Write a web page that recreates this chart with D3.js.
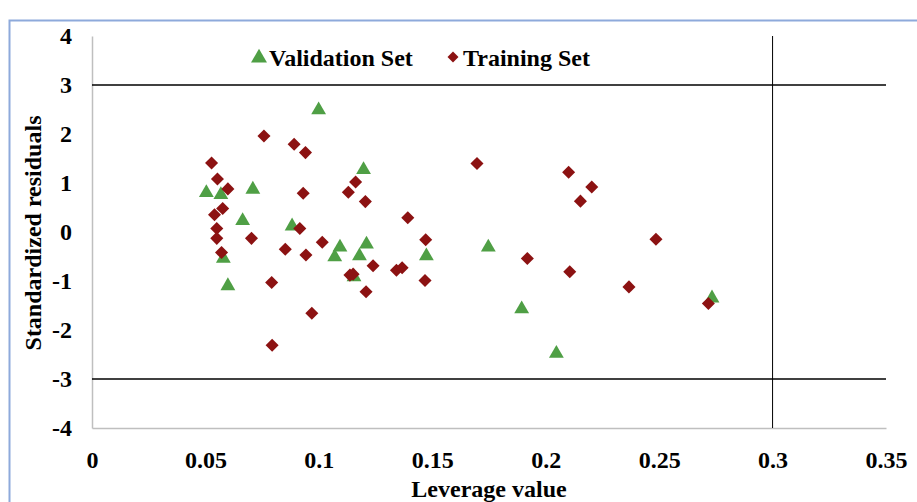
<!DOCTYPE html>
<html><head><meta charset="utf-8">
<script src="https://cdn.jsdelivr.net/npm/d3@7"></script>
<style>body{margin:0;background:#fff}svg{display:block}</style>
</head><body>
<script>
const validationX = [0.0504,0.0568,0.0709,0.0664,0.0882,0.0579,0.0599,0.0999,0.1197,0.1093,0.1070,0.1210,0.1179,0.1155,0.1474,0.1747,0.1894,0.2047,0.2733];
const validationY = [0.80,0.76,0.87,0.23,0.12,-0.54,-1.10,2.49,1.27,-0.31,-0.51,-0.25,-0.49,-0.92,-0.49,-0.31,-1.57,-2.48,-1.35];
const trainingX = [0.0758,0.0891,0.0941,0.0527,0.0553,0.0599,0.0931,0.1130,0.1162,0.0576,0.0540,0.0550,0.0550,0.0703,0.0916,0.0571,0.0852,0.0943,0.1015,0.0792,0.0969,0.0794,0.1205,0.1392,0.1471,0.1468,0.1239,0.1342,0.1367,0.1137,0.1151,0.1208,0.1697,0.2101,0.2203,0.2153,0.1919,0.2486,0.2106,0.2367,0.2717];
const trainingY = [1.96,1.79,1.62,1.41,1.08,0.88,0.79,0.81,1.02,0.48,0.35,0.07,-0.13,-0.13,0.07,-0.42,-0.35,-0.47,-0.21,-1.03,-1.66,-2.31,0.62,0.29,-0.16,-0.99,-0.69,-0.78,-0.73,-0.88,-0.86,-1.22,1.40,1.22,0.92,0.63,-0.54,-0.15,-0.81,-1.12,-1.46];
const xTicks = [0,0.05,0.1,0.15,0.2,0.25,0.3,0.35];
const yTicks = [-4,-3,-2,-1,0,1,2,3,4];
const hLines = [3,-3];
const vLines = [0.3];
const seriesNames = ["Validation Set","Training Set"];

const W=917,H=502;
const svg=d3.select("body").append("svg").attr("width",W).attr("height",H);
const font="'Liberation Serif','Times New Roman',serif";
const fs=24;
// frame
svg.append("rect").attr("x",9.5).attr("y",20.5).attr("width",W+20).attr("height",H+20)
  .attr("fill","none").attr("stroke","#8eaadb").attr("stroke-width",2);

const x=d3.scaleLinear().domain([0,0.35]).range([92,886]);
const y=d3.scaleLinear().domain([-4,4]).range([428,36]);

// axes
const xa=svg.append("g").attr("transform","translate(0,428)")
  .call(d3.axisBottom(x).tickValues(xTicks).tickSize(0).tickPadding(23).tickFormat(d=>d===0?"0":String(d)));
const ya=svg.append("g").attr("transform","translate(92,0)")
  .call(d3.axisLeft(y).tickValues(yTicks).tickSize(0).tickPadding(20).tickFormat(d=>String(d)));
[xa,ya].forEach(a=>{
  a.select(".domain").attr("stroke","#bfbfbf").attr("stroke-width",1.5);
  a.selectAll("text").attr("font-family",font).attr("font-weight","bold").attr("font-size",fs).attr("fill","#000");
});
xa.selectAll("text").attr("dy","0.71em");

// reference lines
svg.selectAll(".hl").data(hLines).enter().append("line")
  .attr("x1",x(0)).attr("x2",x(0.35)).attr("y1",d=>y(d)).attr("y2",d=>y(d))
  .attr("stroke","#000").attr("stroke-width",1.5);
svg.selectAll(".vl").data(vLines).enter().append("line")
  .attr("x1",d=>x(d)).attr("x2",d=>x(d)).attr("y1",y(4)).attr("y2",y(-4))
  .attr("stroke","#000").attr("stroke-width",1);

const green="#4f9f45", red="#8c1212";
const tri=d3.symbol().type(d3.symbolTriangle).size(95);
const dia=d3.symbol().type(d3.symbolSquare).size(85);

svg.append("g").selectAll("path").data(validationX.map((v,i)=>[v,validationY[i]])).enter().append("path")
  .attr("d",tri).attr("transform",d=>`translate(${x(d[0])},${y(d[1])})`).attr("fill",green);
svg.append("g").selectAll("path").data(trainingX.map((v,i)=>[v,trainingY[i]])).enter().append("path")
  .attr("d",dia).attr("transform",d=>`translate(${x(d[0])},${y(d[1])}) rotate(45)`).attr("fill",red);

// legend
const lg=svg.append("g");
lg.append("path").attr("d",d3.symbol().type(d3.symbolTriangle).size(110)).attr("transform","translate(259,58)").attr("fill",green);
lg.append("text").attr("x",269).attr("y",66).text(seriesNames[0]);
lg.append("path").attr("d",d3.symbol().type(d3.symbolSquare).size(60)).attr("transform","translate(453,57) rotate(45)").attr("fill",red);
lg.append("text").attr("x",463).attr("y",66).text(seriesNames[1]);
lg.selectAll("text").attr("font-family",font).attr("font-weight","bold").attr("font-size",fs).attr("fill","#000");

// axis titles
svg.append("text").attr("x",489).attr("y",497).attr("text-anchor","middle")
  .attr("font-family",font).attr("font-weight","bold").attr("font-size",fs).text("Leverage value");
svg.append("text").attr("transform","translate(41,233) rotate(-90)").attr("text-anchor","middle")
  .attr("font-family",font).attr("font-weight","bold").attr("font-size",fs).text("Standardized residuals");
</script>
</body></html>
